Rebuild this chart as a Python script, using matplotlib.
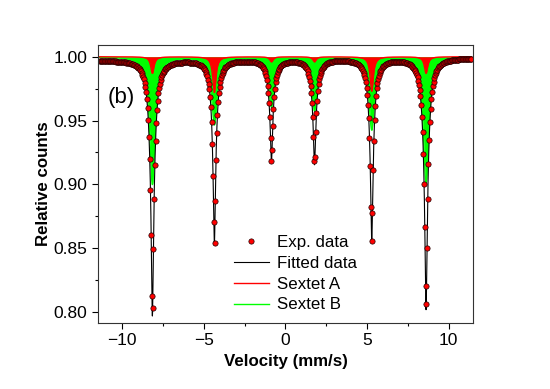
import numpy as np
import matplotlib
matplotlib.use("Agg")
import matplotlib.pyplot as plt
from matplotlib.ticker import MultipleLocator

plt.rcParams['font.family'] = ['Liberation Sans', 'DejaVu Sans']

# --- values (velocities in mm/s, depths in relative counts)
line_pos = [-8.16, -4.36, -0.86, 1.78, 5.29, 8.62]
depth_A = [0.013, 0.028, 0.004, 0.004, 0.027, 0.013]      # Sextet A (red)
depth_B = [0.100, 0.053, 0.039, 0.042, 0.057, 0.099]      # Sextet B (green)
fit_min = [0.797, 0.853, 0.918, 0.916, 0.856, 0.802]      # bottom of fitted dips
hwhm_A = 0.12
hwhm_B = 0.20
hwhm_core = 0.065
base_left, base_right = 0.9972, 0.9992
v_first, v_last, n_channels = -11.4, 11.4, 512

xticks = [-10, -5, 0, 5, 10]
yticks = [0.80, 0.85, 0.90, 0.95, 1.00]


def lorentz(v, pos, depth, hwhm):
    out = np.zeros_like(v)
    for p, d in zip(pos, depth):
        out += d * hwhm**2 / ((v - p)**2 + hwhm**2)
    return out


def baseline(v):
    return base_left + (base_right - base_left) * (v - v_first) / (v_last - v_first)


# remaining narrow part of each fitted line
depth_core = [baseline(np.array([p]))[0] - m - a - b
              for p, m, a, b in zip(line_pos, fit_min, depth_A, depth_B)]


def fitted(v):
    return (baseline(v) - lorentz(v, line_pos, depth_A, hwhm_A)
            - lorentz(v, line_pos, depth_B, hwhm_B)
            - lorentz(v, line_pos, depth_core, hwhm_core))


v = np.linspace(v_first, v_last, 6000)
vch = np.linspace(v_first, v_last, n_channels)
sextA = 1.0 - lorentz(v, line_pos, depth_A, hwhm_A)
sextB = 1.0 - lorentz(v, line_pos, depth_B, hwhm_B)

fig = plt.figure(figsize=(5.5, 3.89), dpi=100)
ax = fig.add_axes([0.178, 0.170, 0.682, 0.715])

ax.fill_between(v, sextB, 1.0, color='#00ff00', lw=0)
ax.plot(v, sextB, color='#00ff00', lw=1.0, label='Sextet B')
ax.fill_between(v, sextA, 1.0, color='#ff0000', lw=0)
ax.plot(v, sextA, color='#ff0000', lw=1.0, label='Sextet A')
ax.plot(v, fitted(v), color='black', lw=0.8, label='Fitted data')
ax.plot(vch, fitted(vch), 'o', ms=3.8, mfc='#ff0000', mec='#200000', mew=0.5,
        label='Exp. data')

ax.set_xlim(-11.5, 11.5)
ax.set_ylim(0.7914, 1.0094)
ax.set_xticks(xticks)
ax.set_yticks(yticks)
ax.set_yticklabels(['%.2f' % t for t in yticks])
ax.xaxis.set_minor_locator(MultipleLocator(2.5))
ax.yaxis.set_minor_locator(MultipleLocator(0.025))
ax.tick_params(which='both', direction='out', top=False, right=False, labelsize=12.5)
ax.tick_params(which='major', length=4, width=0.8)
ax.tick_params(which='minor', length=2.5, width=0.8)
for s in ax.spines.values():
    s.set_linewidth(0.8)
    s.set_color('#333333')

ax.set_xlabel('Velocity (mm/s)', fontsize=12.2, fontweight='bold', labelpad=4)
ax.set_ylabel('Relative counts', fontsize=12.2, fontweight='bold', labelpad=2)
ax.text(0.027, 0.81, '(b)', transform=ax.transAxes, fontsize=16, va='center')

h, l = ax.get_legend_handles_labels()
order = [3, 2, 1, 0]
ax.legend([h[i] for i in order], [l[i] for i in order], frameon=False,
          loc='upper left', bbox_to_anchor=(0.33, 0.358), fontsize=12.2,
          handlelength=2.1, handletextpad=0.45, labelspacing=0.34, borderpad=0.2,
          markerscale=1.0)

fig.savefig('out.png', dpi=100)
